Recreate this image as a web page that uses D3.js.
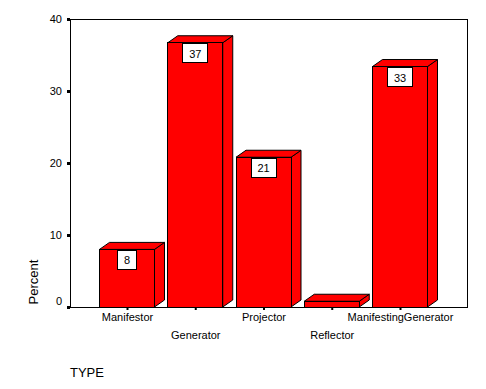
<!DOCTYPE html>
<html>
<head>
<meta charset="utf-8">
<script src="https://cdn.jsdelivr.net/npm/d3@7"></script>
<style>
  body { margin: 0; background: #fff; }
  svg { font-family: "Liberation Sans", Arial, sans-serif; }
</style>
</head>
<body>
<script>
// chart data
const categories = ['Manifestor', 'Generator', 'Projector', 'Reflector', 'ManifestingGenerator'];
const percents = [8.0, 36.7, 20.8, 0.8, 33.4];
const valueLabels = ['8', '37', '21', '', '33'];
const yTicks = [0, 10, 20, 30, 40];

let width = 486;
let height = 389;

let plotLeft = 70, plotRight = 467, plotTop = 19, plotBottom = 307;
let barWidth = 55;
let depthX = 10, depthY = 7;

let svg = d3.select('body')
    .append('svg')
    .attr('width', width)
    .attr('height', height);

let x = d3.scalePoint()
    .domain(categories)
    .range([plotLeft + 57, plotRight - 67]);

let y = d3.scaleLinear()
    .domain([0, 40])
    .range([plotBottom, plotTop]);

// frame
svg.append('rect')
    .attr('x', plotLeft)
    .attr('y', plotTop)
    .attr('width', plotRight - plotLeft)
    .attr('height', plotBottom - plotTop)
    .attr('fill', 'none')
    .attr('stroke', '#000')
    .attr('shape-rendering', 'crispEdges');

// y axis
let yAxis = svg.append('g')
    .attr('transform', `translate(${plotLeft},0)`)
    .call(d3.axisLeft(y).tickValues(yTicks).tickSize(3).tickPadding(5).tickSizeOuter(0));
yAxis.select('.domain').remove();
yAxis.selectAll('line').attr('stroke-width', 3);
yAxis.selectAll('text')
    .attr('font-size', 11)
    .attr('font-family', '"Liberation Sans", Arial, sans-serif')
    .attr('dy', d => d === 0 ? '-0.22em' : '0.32em');

// x axis
let xAxis = svg.append('g')
    .attr('transform', `translate(0,${plotBottom})`)
    .call(d3.axisBottom(x).tickSize(3).tickSizeOuter(0));
xAxis.select('.domain').remove();
xAxis.selectAll('line').attr('stroke-width', 2);
xAxis.selectAll('text')
    .attr('font-size', 11)
    .attr('font-family', '"Liberation Sans", Arial, sans-serif')
    .attr('dy', null)
    .attr('y', (d, i) => i % 2 === 0 ? 14 : 32);

// bars
let bars = svg.selectAll('.bar')
    .data(categories)
    .enter()
    .append('g')
    .attr('class', 'bar');

bars.each(function (d, i) {
    let g = d3.select(this);
    let x0 = x(d) - barWidth / 2;
    let x1 = x(d) + barWidth / 2;
    let yt = y(percents[i]);
    let yb = y(0);

    // side face
    g.append('path')
        .attr('d', `M${x1},${yt}L${x1 + depthX},${yt - depthY}L${x1 + depthX},${yb - depthY}L${x1},${yb}Z`)
        .attr('fill', '#ff0000')
        .attr('stroke', '#000');
    // top face
    g.append('path')
        .attr('d', `M${x0},${yt}L${x0 + depthX},${yt - depthY}L${x1 + depthX},${yt - depthY}L${x1},${yt}Z`)
        .attr('fill', '#ff0000')
        .attr('stroke', '#000');
    // front face
    g.append('rect')
        .attr('x', x0)
        .attr('y', yt)
        .attr('width', barWidth)
        .attr('height', yb - yt)
        .attr('fill', '#ff0000')
        .attr('stroke', '#000')
        .attr('shape-rendering', 'crispEdges');

    // value label
    if (valueLabels[i]) {
        let w = valueLabels[i].length === 1 ? 19 : 25;
        g.append('rect')
            .attr('x', x(d) - w / 2)
            .attr('y', yt + 1)
            .attr('width', w)
            .attr('height', 19)
            .attr('fill', '#fff')
            .attr('stroke', '#000')
            .attr('shape-rendering', 'crispEdges');
        g.append('text')
            .attr('x', x(d))
            .attr('y', yt + 15)
            .attr('text-anchor', 'middle')
            .attr('font-size', 11)
            .text(valueLabels[i]);
    }
});

// axis titles
svg.append('text')
    .attr('transform', 'translate(38,282) rotate(-90)')
    .attr('text-anchor', 'middle')
    .attr('font-size', 13)
    .text('Percent');

svg.append('text')
    .attr('x', 70)
    .attr('y', 377)
    .attr('font-size', 13)
    .text('TYPE');
</script>
</body>
</html>
